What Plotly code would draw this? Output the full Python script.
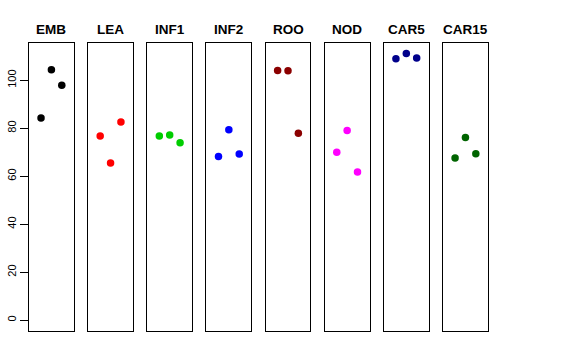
import plotly.graph_objects as go

categories = ["EMB", "LEA", "INF1", "INF2", "ROO", "NOD", "CAR5", "CAR15"]
colors = ["#000000", "#FF0000", "#00CD00", "#0000FF", "#8B0000", "#FF00FF", "#00008B", "#006400"]
x_positions = [1, 2, 3]
values = {
    "EMB":   [84.3, 104.4, 97.9],
    "LEA":   [76.8, 65.5, 82.6],
    "INF1":  [76.8, 77.2, 73.9],
    "INF2":  [68.2, 79.4, 69.3],
    "ROO":   [104.0, 103.9, 77.9],
    "NOD":   [70.0, 79.0, 61.7],
    "CAR5":  [108.9, 111.1, 109.2],
    "CAR15": [67.6, 76.1, 69.4],
}
y_ticks = [0, 20, 40, 60, 80, 100]

W, H = 576, 360
left0, step, pw = 29.0, 59.15, 44.8
top_px, bot_px = 43.0, 331.0

fig = go.Figure()
layout = dict(
    width=W, height=H, margin=dict(l=0, r=0, t=0, b=0, autoexpand=False),
    paper_bgcolor="white", plot_bgcolor="white", showlegend=False,
    font=dict(family="Liberation Sans, Arial, sans-serif", color="black"),
)
annotations = []
for i, cat in enumerate(categories):
    n = "" if i == 0 else str(i + 1)
    x0 = (left0 + i * step) / W
    x1 = (left0 + i * step + pw) / W
    fig.add_trace(go.Scatter(
        x=x_positions, y=values[cat], mode="markers",
        marker=dict(color=colors[i], size=7.5, line=dict(width=0)),
        xaxis="x" + n, yaxis="y" + n, hoverinfo="skip",
    ))
    layout["xaxis" + n] = dict(
        domain=[x0, x1], range=[-0.16, 4.16], showticklabels=False, ticks="",
        showgrid=False, zeroline=False, showline=True, mirror=True,
        linecolor="black", linewidth=1, anchor="y" + n, fixedrange=True,
        automargin=False,
    )
    ya = dict(
        domain=[1 - bot_px / H, 1 - top_px / H], range=[-4.5, 115.5],
        showgrid=False, zeroline=False, showline=True, mirror=True,
        linecolor="black", linewidth=1, anchor="x" + n, fixedrange=True,
        automargin=False,
    )
    if i == 0:
        ya.update(tickvals=y_ticks, ticktext=[str(v) for v in y_ticks],
                  ticks="outside", ticklen=8, tickcolor="black", tickwidth=1,
                  tickangle=-90, tickfont=dict(size=11, color="black"))
    else:
        ya.update(showticklabels=False, ticks="")
    layout["yaxis" + n] = ya
    annotations.append(dict(
        text="<b>" + cat + "</b>", x=(x0 + x1) / 2, y=1 - 29.7 / H,
        xref="paper", yref="paper", showarrow=False,
        font=dict(size=13.5, color="black"), xanchor="center", yanchor="middle",
    ))
layout["annotations"] = annotations
fig.update_layout(**layout)
fig.write_html("out.html", config={"displayModeBar": False},
               post_script="document.body.style.margin='0';")
